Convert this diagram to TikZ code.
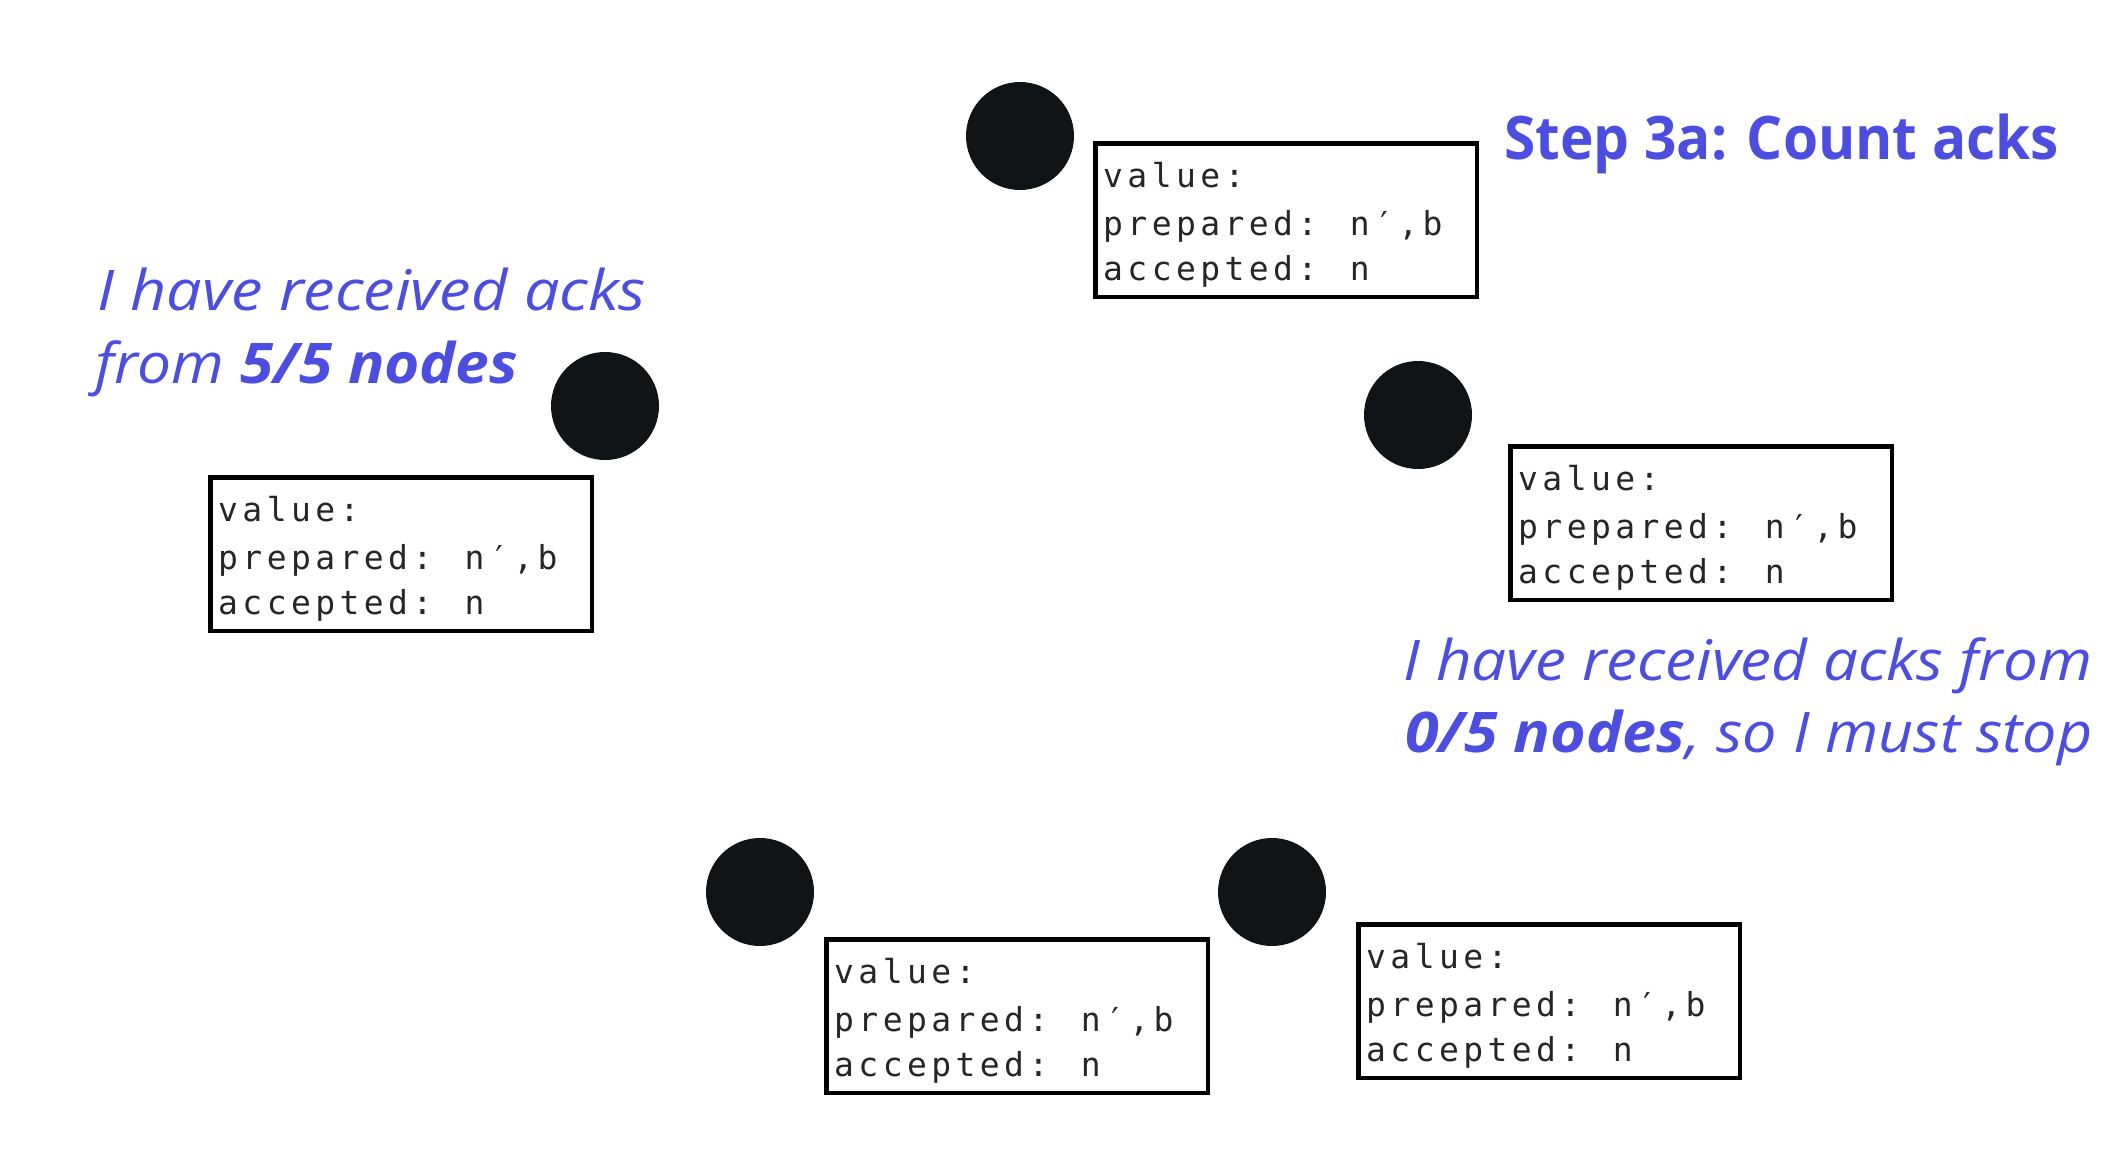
\documentclass[tikz,border=0pt]{standalone}
\usepackage{fontspec}
\usepackage{graphicx}
\setmainfont{Open Sans}
\newfontfamily\monofam[LetterSpace=13.4]{DejaVu Sans Mono}
\definecolor{ackblue}{RGB}{76,78,224}
\definecolor{dotblack}{RGB}{17,20,23}
\newsavebox\fitbox
\newcommand\fitto[2]{\sbox\fitbox{#2}\pgfmathsetmacro\fitratio{#1/\the\wd\fitbox}\scalebox{\fitratio}[1]{\usebox\fitbox}}
\tikzset{
  paxbox/.style={draw=black, line width=4.5pt, fill=white, minimum width=381.5pt, minimum height=153.5pt, inner sep=0pt},
  monotext/.style={inner sep=0pt, text=black!85, font=\monofam\fontsize{33}{40}\selectfont},
  dot/.style={circle, fill=dotblack, draw=none, minimum size=108pt, inner sep=0pt},
  bluetext/.style={inner sep=0pt, text=ackblue, font=\fontsize{56}{73}\selectfont},
  titletext/.style={inner sep=0pt, text=ackblue, font=\bfseries\fontsize{60}{72}\selectfont}
}
\newcommand\paxos[3]{%
  \node[paxbox, anchor=north west] (#1) at (#2,#3) {};
  \node[monotext, anchor=base west] (#1-value) at ({#2+10},{#3+46}) {value:};
  \node[monotext, anchor=base west] (#1-prep) at ({#2+10},{#3+94}) {prepared: n′,b};
  \node[monotext, anchor=base west] (#1-acc) at ({#2+10},{#3+139}) {accepted: n};
}
\begin{document}
\begin{tikzpicture}[x=1pt, y=-1pt]
  \useasboundingbox[fill=white] (0,0) rectangle (2122,1156);
  % nodes (circles)
  \node[dot] (c1) at (1020,136) {};
  \node[dot] (c2) at (605,406) {};
  \node[dot] (c3) at (1418,415) {};
  \node[dot] (c4) at (760,892) {};
  \node[dot] (c5) at (1272,892) {};
  % state boxes
  \paxos{b1}{1093}{141}
  \paxos{b2}{208}{475}
  \paxos{b3}{1508}{444}
  \paxos{b4}{824}{937}
  \paxos{b5}{1356}{922}
  % title
  \node[titletext, anchor=base west] (title) at (1504,159) {\fitto{555}{Step 3a: Count acks}};
  % left comment
  \node[bluetext, anchor=base west] (l1) at (97,310) {\fitto{549}{\itshape I have received acks}};
  \node[bluetext, anchor=base west] (l2) at (95,383) {\fitto{423}{\itshape from \textbf{5/5 nodes}}};
  % right comment
  \node[bluetext, anchor=base west] (r1) at (1403,680) {\fitto{689}{\itshape I have received acks from}};
  \node[bluetext, anchor=base west] (r2) at (1405,752) {\fitto{687}{\itshape \textbf{0/5 nodes}, so I must stop}};
\end{tikzpicture}
\end{document}
